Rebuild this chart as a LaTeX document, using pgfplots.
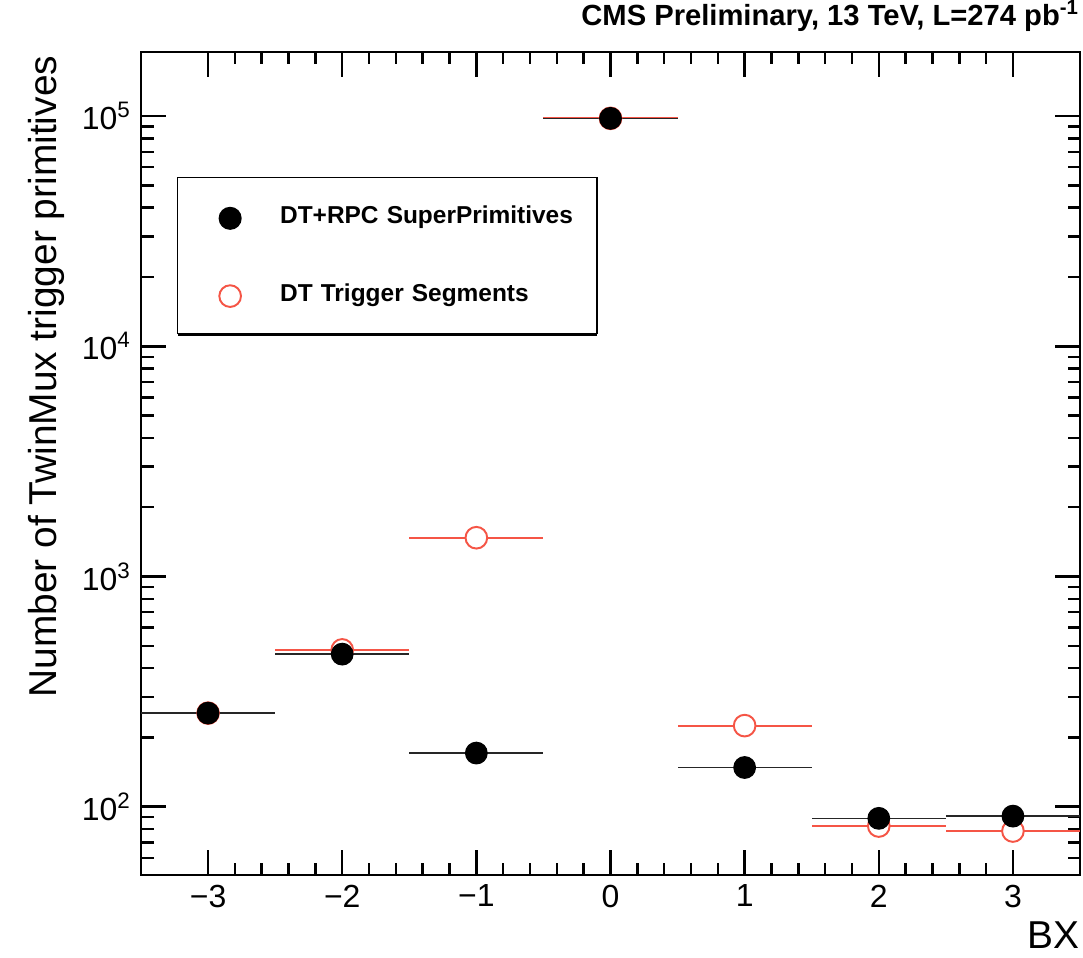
\documentclass[border=0pt]{standalone}
\usepackage{pgfplots}
\pgfplotsset{compat=1.18}
\usepackage{fontspec}
\setmainfont{Liberation Sans}
\usetikzlibrary{shadows}
\definecolor{rootred}{RGB}{245,85,70}

\begin{document}
\begin{tikzpicture}
\begin{axis}[
    name=ax,
    scale only axis,
    width=338.04pt, height=296.28pt,
    xmin=-3.5, xmax=3.5,
    ymode=log, ymin=50.5, ymax=1.9e5,
    xtick={-3,-2,-1,0,1,2,3},
    xticklabels={−3,−2,−1,0,1,2,3},
    minor x tick num=4,
    ytick={100,1000,10000,100000},
    yticklabels={10\textsuperscript{2},10\textsuperscript{3},10\textsuperscript{4},10\textsuperscript{5}},
    minor ytick={60,70,80,90,200,300,400,500,600,700,800,900,2000,3000,4000,5000,6000,7000,8000,9000,20000,30000,40000,50000,60000,70000,80000,90000},
    tick label style={font=\fontsize{11.5}{13}\selectfont},
    major tick length=9pt, minor tick length=4.5pt,
    tick style={black, line width=0.9pt},
    axis line style={line width=0.9pt},
    title={CMS Preliminary, 13 TeV, L=274 pb\textsuperscript{-1}},
    title style={at={(axis description cs:1,1)}, anchor=base east, inner sep=0pt, yshift=3.6pt, font=\bfseries\fontsize{10.5}{12}\selectfont},
    xlabel={BX},
    x label style={at={(axis description cs:1,0)}, anchor=north east, inner sep=0pt, yshift=-16.5pt, font=\fontsize{14}{16}\selectfont},
    ylabel={Number of TwinMux trigger primitives},
    y label style={at={(axis description cs:-0.0895,0.996)}, anchor=base east, inner sep=0pt, font=\fontsize{14}{16}\selectfont},
    legend image code/.code={\pgfpathrectangle{\pgfpoint{-19pt}{-3pt}}{\pgfpoint{37pt}{6pt}}\pgfusepath{}\draw[#1] plot coordinates {(0pt,-0.6pt)};},
    legend style={at={(0.038,0.848)}, anchor=north west, draw=black, line width=0.5pt, fill=white,
        inner sep=0pt, row sep=0pt, column sep=0pt,
        drop shadow={shadow xshift=0.2pt, shadow yshift=-1.1pt, fill=black, opacity=1},
        font=\bfseries\fontsize{8.8}{10}\selectfont,
        nodes={inner sep=0pt, text width=114pt, minimum height=28pt, align=left}},
]
% DT Trigger Segments (drawn first, black on top)
\addplot[forget plot, only marks, mark=*, mark size=3.9pt, draw=rootred, mark options={fill=white, draw=rootred, line width=0.7pt},
    error bars/.cd, x dir=both, x fixed=0.5, error mark=none, error bar style={line width=0.7pt, rootred}]
    coordinates {(-3,255) (-2,480) (-1,1474) (0,97800) (1,225) (2,82.4) (3,78.4)};
% DT+RPC SuperPrimitives
\addplot[forget plot, only marks, mark=*, mark size=3.9pt, black, mark options={fill=black, draw=black},
    error bars/.cd, x dir=both, x fixed=0.5, error mark=none, error bar style={line width=0.6pt, black!85}]
    coordinates {(-3,255) (-2,460) (-1,171) (0,97800) (1,148) (2,89) (3,91)};
\addlegendimage{only marks, mark=*, mark size=3.9pt, black, mark options={fill=black}}
\addlegendimage{only marks, mark=*, mark size=3.9pt, mark options={fill=white, draw=rootred, line width=0.7pt}}
\legend{DT+RPC SuperPrimitives, DT Trigger Segments}
\end{axis}
\pgfresetboundingbox
\path ([shift={(-50.76pt,-29.52pt)}]ax.south west) rectangle ([shift={(1.08pt,18.72pt)}]ax.north east);
\end{tikzpicture}
\end{document}
